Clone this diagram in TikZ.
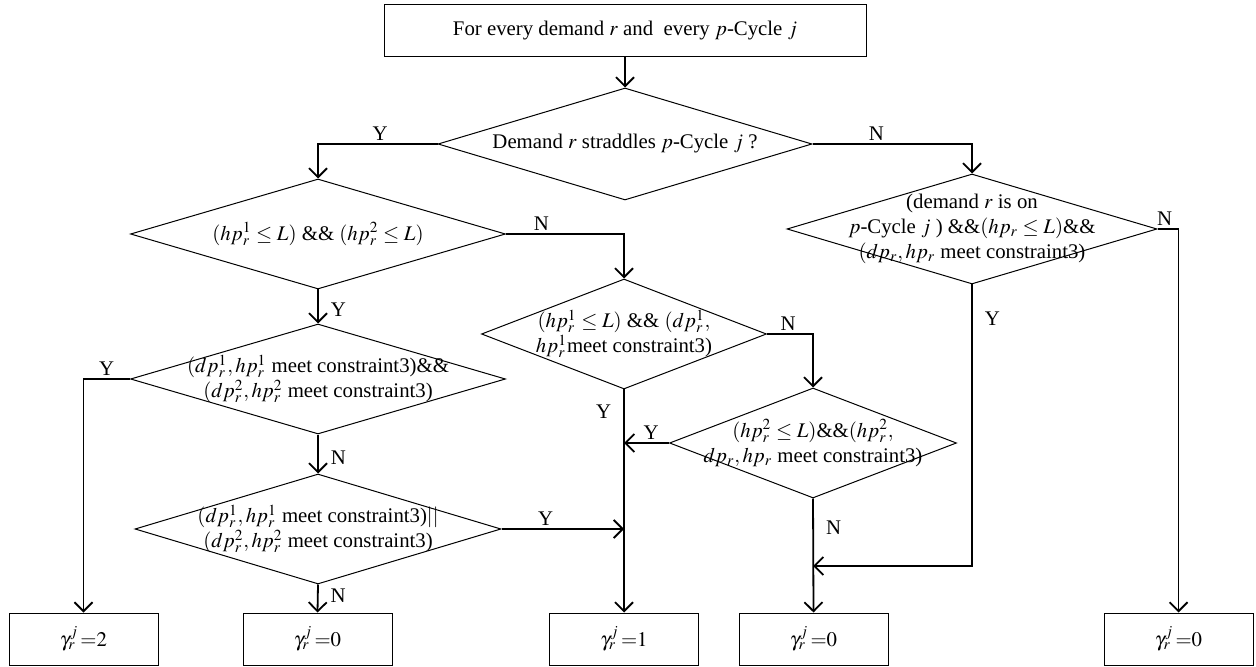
\documentclass[tikz,border=0pt]{standalone}
\usepackage{mathptmx}
\usepackage{fontspec}
\setmainfont{Liberation Serif}
\usetikzlibrary{shapes.geometric,arrows.meta}

\begin{document}
\begin{tikzpicture}[x=0.5pt,y=-0.5pt,
  font=\fontsize{10.4}{12.5}\selectfont,
  box/.style={draw, line width=0.5pt, minimum width=74.5pt, minimum height=26pt, inner sep=0pt},
  dia/.style 2 args={draw, line width=0.5pt, diamond, inner sep=0pt, minimum width=#1, minimum height=#2},
  txt/.style={align=center, inner sep=0pt},
  flow/.style={line width=0.9pt, -{Straight Barb[length=4.5pt,width=9pt]}},
  tag/.style={inner sep=1.5pt},
  sidetag/.style={inner sep=6pt}]
  \useasboundingbox (0,0) rectangle (1256,667);

  % start and decisions
  \node[box, minimum width=241pt] (start) at (625,31) {For every demand $r$ and\ \ every $p$-Cycle $j$};
  \node[dia={187pt}{56pt}] (d1) at (625,144) {};
  \node[txt] (t1) at (d1) {Demand $r$ straddles $p$-Cycle $j$ ?};
  \node[dia={187.5pt}{55pt}] (d2) at (318,234) {};
  \node[txt] (t2) at (d2) {$(hp_r^1\le L)$ \&\& $(hp_r^2\le L)$};
  \node[dia={185pt}{55pt}] (d3) at (972,229) {};
  \node[txt] (t3) at (d3) {(demand $r$ is on\\ $p$-Cycle $j$ ) \&\&$(hp_r\le L)$\&\&\\ $(dp_r, hp_r$ meet constraint3)};
  \node[dia={142.5pt}{55pt}] (d4) at (624,334) {};
  \node[txt] (t4) at (d4) {$(hp_r^1\le L)$ \&\& $(dp_r^1,$\\ $hp_r^1$meet constraint3)};
  \node[dia={187.5pt}{55pt}] (d5) at (318,379) {};
  \node[txt] (t5) at (d5) {$(dp_r^1,hp_r^1$ meet constraint3)\&\&\\ $(dp_r^2,hp_r^2$ meet constraint3)};
  \node[dia={143.5pt}{55pt}] (d6) at (813,443) {};
  \node[txt] (t6) at (d6) {$(hp_r^2\le L)$\&\&$(hp_r^2,$\\ $dp_r, hp_r$ meet constraint3)};
  \node[dia={183pt}{55pt}] (d7) at (318,529) {};
  \node[txt] (t7) at (d7) {$(dp_r^1,hp_r^1$ meet constraint3)$||$\\ $(dp_r^2,hp_r^2$ meet constraint3)};

  % results
  \node[box] (b1) at (83.5,639) {$\gamma_r^j\,{=}2$};
  \node[box] (b2) at (317.5,639) {$\gamma_r^j\,{=}0$};
  \node[box] (b3) at (624,639) {$\gamma_r^j\,{=}1$};
  \node[box] (b4) at (813.5,639) {$\gamma_r^j\,{=}0$};
  \node[box] (b5) at (1178.5,639) {$\gamma_r^j\,{=}0$};

  \coordinate (m1) at (d4 |- d6.west);
  \coordinate (m2) at (d4 |- d7.east);
  \coordinate (m3) at (813,566);

  \draw[flow] (start.south) -- (d1.north);
  \draw[flow] (d1.west) -| node[tag, pos=0.24, above] (y1) {Y} (d2.north);
  \draw[flow] (d1.east) -| node[tag, pos=0.2, above] (n1) {N} (d3.north);
  \draw[flow] (d2.east) -| node[tag, pos=0.15, above] (n2) {N} (d4.north);
  \draw[flow] (d2.south) -- node[sidetag, pos=0.6, right] (y2) {Y} (d5.north);
  \draw[flow] (d3.east) -| node[tag, pos=0.17, above] (n3) {N} (b5.north);
  \draw[flow] (d3.south) |- node[sidetag, pos=0.06, right] (y3) {Y} (m3);
  \draw[flow] (d4.east) -| node[tag, pos=0.23, above] (n4) {N} (d6.north);
  \draw[flow] (d4.south) -- node[sidetag, pos=0.1, left] (y4) {Y} (b3.north);
  \draw[flow] (d5.west) -| node[tag, pos=0.25, above] (y5) {Y} (b1.north);
  \draw[flow] (d5.south) -- node[sidetag, pos=0.6, right] (n5) {N} (d7.north);
  \draw[flow] (d6.west) -- node[tag, pos=0.4, above] (y6) {Y} (m1);
  \draw[flow] (d6.south) -- node[sidetag, pos=0.26, right] (n6) {N} (b4.north);
  \draw[flow] (d7.east) -- node[tag, pos=0.36, above] (y7) {Y} (m2);
  \draw[flow] (d7.south) -- node[sidetag, pos=0.4, right] (n7) {N} (b2.north);
\end{tikzpicture}
\end{document}
